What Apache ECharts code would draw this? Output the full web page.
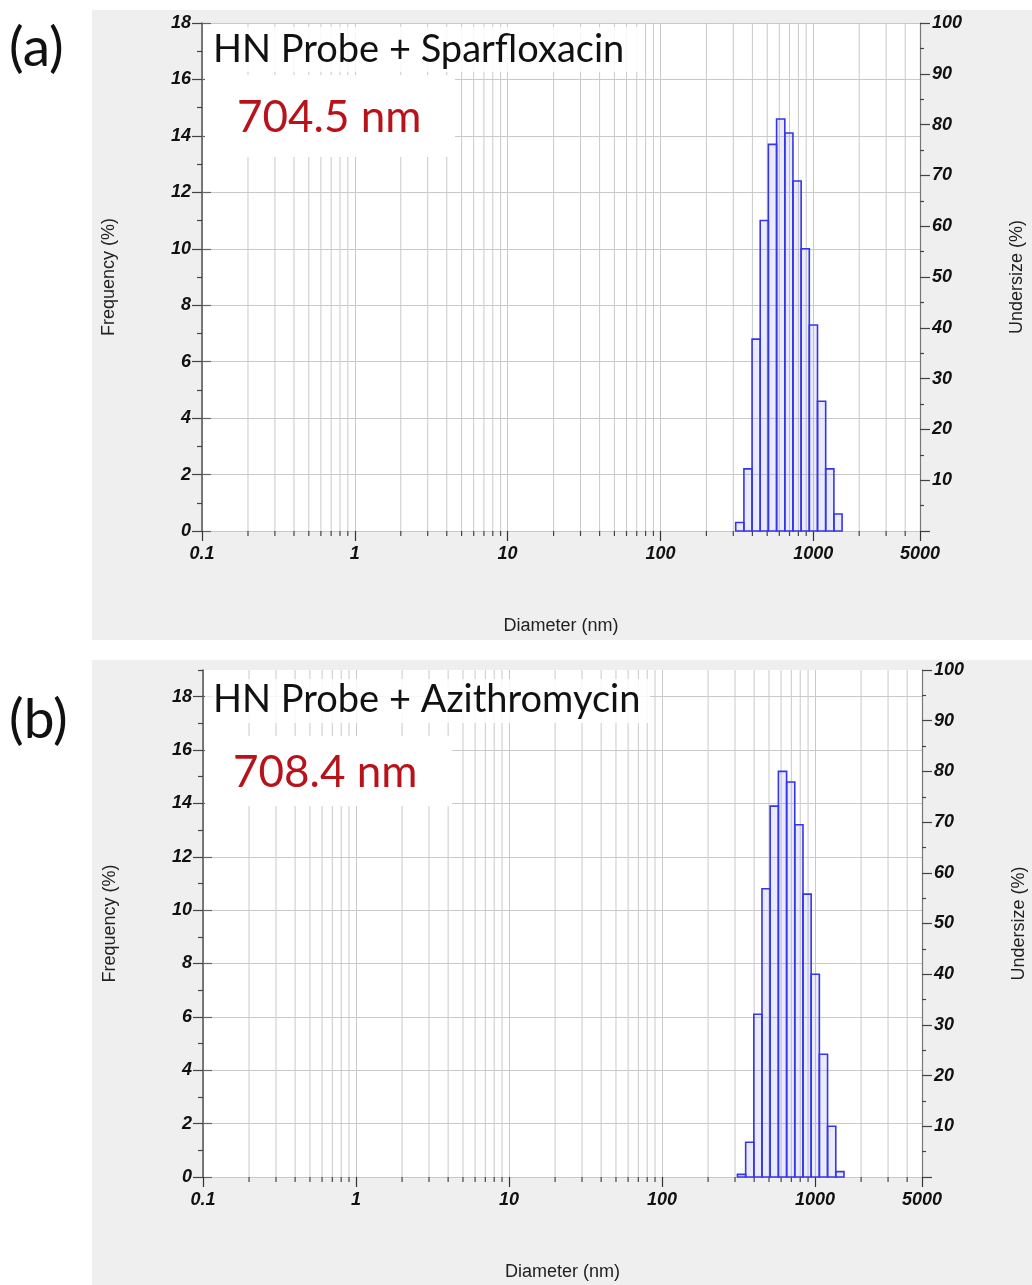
<!DOCTYPE html>
<html><head><meta charset="utf-8">
<script src="https://cdn.jsdelivr.net/npm/echarts@6/dist/echarts.min.js"></script>
<style>html,body{margin:0;padding:0;background:#fff}#c{width:1032px;height:1285px}</style>
</head><body><div id="c"></div>
<script>
// ---- data ----
const binLower = [311, 352, 398, 450, 509, 576, 652, 737, 834, 943, 1067, 1207, 1366];
const binUpper = [352, 398, 450, 509, 576, 652, 737, 834, 943, 1067, 1207, 1366, 1545];
const freqA = [0.3, 2.2, 6.8, 11.0, 13.7, 14.6, 14.1, 12.4, 10.0, 7.3, 4.6, 2.2, 0.6];
const freqB = [0.1, 1.3, 6.1, 10.8, 13.9, 15.2, 14.8, 13.2, 10.6, 7.6, 4.6, 1.9, 0.2];
const panelTitles = ['HN Probe + Sparfloxacin', 'HN Probe + Azithromycin'];
const panelSizes = ['704.5 nm', '708.4 nm'];
const panelLetters = ['(a)', '(b)'];
const freqLabelValues = [0, 2, 4, 6, 8, 10, 12, 14, 16, 18];
const freqMinorA = [1, 3, 5, 7, 9, 11, 13, 15, 17];
const freqMinorB = [1, 3, 5, 7, 9, 11, 13, 15, 17, 19];
const minorGridX = [0.2, 0.3, 0.4, 0.5, 0.6, 0.7, 0.8, 0.9,
  2, 3, 4, 5, 6, 7, 8, 9,
  20, 30, 40, 50, 60, 70, 80, 90,
  200, 300, 400, 500, 600, 700, 800, 900,
  2000, 3000, 4000];

const tickFont = {fontFamily: 'Liberation Sans', fontWeight: 'bold', fontStyle: 'italic', fontSize: 18, color: '#111'};
const nameFont = {fontFamily: 'Liberation Sans', fontSize: 18, color: '#222'};
const GRID = '#c9c9c9';

const grids = [
  {left: 202, top: 23, right: 112, bottom: 754, maxY: 18, freq: freqA, minor: freqMinorA},
  {left: 203, top: 670, right: 110, bottom: 108, maxY: 19, freq: freqB, minor: freqMinorB}
];

const option = {
  animation: false,
  backgroundColor: '#fff',
  grid: [], xAxis: [], yAxis: [], series: [], graphic: []
};

grids.forEach((g, p) => {
  option.grid.push({left: g.left, top: g.top, right: g.right, bottom: g.bottom,
    show: true, backgroundColor: '#fff', borderWidth: 0, containLabel: false, outerBoundsMode: 'none'});
  option.xAxis.push({
    type: 'log', logBase: 10, gridIndex: p, min: 0.1, max: 5000,
    name: 'Diameter (nm)', nameLocation: 'middle', nameGap: 86, nameTextStyle: nameFont,
    axisLine: {show: false, onZero: false},
    axisTick: {show: true, length: 10, lineStyle: {color: '#333', width: 1.2}},
    axisLabel: Object.assign({margin: 14, formatter: v => String(+v.toPrecision(4))}, tickFont),
    splitLine: {show: true, lineStyle: {color: GRID, width: 1}},
    minorTick: {show: false}
  });
  const base = p * 4;
  // main left axis
  option.yAxis.push({
    type: 'value', gridIndex: p, position: 'left', min: 0, max: g.maxY, interval: 1,
    name: 'Frequency (%)', nameLocation: 'middle', nameGap: 84, nameRotate: 90, nameTextStyle: nameFont,
    axisLine: {show: true, lineStyle: {color: '#555', width: 1.5}},
    axisTick: {show: true, customValues: freqLabelValues, length: 10, lineStyle: {color: '#444', width: 1.2}},
    axisLabel: Object.assign({customValues: freqLabelValues, margin: 11}, tickFont),
    splitLine: {show: true, lineStyle: {color: GRID, width: 1}}
  });
  // minor outward ticks
  option.yAxis.push({
    type: 'value', gridIndex: p, position: 'left', min: 0, max: g.maxY, interval: 1,
    axisLine: {show: false},
    axisTick: {show: true, customValues: g.minor, length: 5, lineStyle: {color: '#444', width: 1.2}},
    axisLabel: {show: false}, splitLine: {show: false}
  });
  // inward major ticks
  option.yAxis.push({
    type: 'value', gridIndex: p, position: 'left', min: 0, max: g.maxY, interval: 1,
    axisLine: {show: false},
    axisTick: {show: true, inside: true, customValues: freqLabelValues, length: 9, lineStyle: {color: '#666', width: 1.2}},
    axisLabel: {show: false}, splitLine: {show: false}
  });
  // right axis
  option.yAxis.push({
    type: 'value', gridIndex: p, position: 'right', min: 0, max: 100, interval: 10,
    name: 'Undersize (%)', nameLocation: 'middle', nameGap: 88, nameRotate: 90, nameTextStyle: nameFont,
    axisLine: {show: true, lineStyle: {color: '#777', width: 1.2}},
    axisTick: {show: true, length: 10, lineStyle: {color: '#444', width: 1.2}},
    minorTick: {show: true, splitNumber: 2, length: 4, lineStyle: {color: '#444', width: 1.2}},
    axisLabel: Object.assign({margin: 12, formatter: v => v === 0 ? '' : String(v)}, tickFont),
    splitLine: {show: false}
  });
  // minor log grid lines + ticks
  const maxY = g.maxY;
  option.series.push({
    type: 'custom', xAxisIndex: p, yAxisIndex: base, z: 1, clip: false, silent: true,
    data: minorGridX.map(v => [v, 0]), encode: {x: 0, y: 1},
    renderItem: (params, api) => {
      const x = api.value(0);
      const a = api.coord([x, 0]);
      const b = api.coord([x, maxY]);
      return {type: 'group', children: [
        {type: 'line', shape: {x1: a[0], y1: a[1], x2: b[0], y2: b[1]}, style: {stroke: GRID, lineWidth: 1}},
        {type: 'line', shape: {x1: a[0], y1: a[1], x2: a[0], y2: a[1] + 5}, style: {stroke: '#444', lineWidth: 1.2}}
      ]};
    }
  });
  // histogram bars
  option.series.push({
    type: 'custom', xAxisIndex: p, yAxisIndex: base, z: 3, silent: true,
    data: g.freq.map((f, i) => [binLower[i], binUpper[i], f]),
    encode: {x: [0, 1], y: 2},
    renderItem: (params, api) => {
      const tl = api.coord([api.value(0), api.value(2)]);
      const br = api.coord([api.value(1), 0]);
      return {type: 'rect', shape: {x: tl[0], y: tl[1], width: br[0] - tl[0], height: br[1] - tl[1]},
        style: {fill: 'rgba(120,120,255,0.15)', stroke: '#3636e4', lineWidth: 1.6}};
    }
  });
});

// panel backgrounds, letters, annotation boxes
const panelBoxes = [{y: 10, h: 630}, {y: 660, h: 625}];
panelBoxes.forEach((b, p) => {
  option.graphic.push({type: 'rect', z: -10, shape: {x: 92, y: b.y, width: 940, height: b.h}, style: {fill: '#efefef'}});
});
const annot = [
  {letterY: 48, titleY: 50, titleBox: [205, 27, 435, 45], sizeBox: [205, 75, 250, 82], sizeX: 237, sizeY: 118},
  {letterY: 720, titleY: 700, titleBox: [205, 679, 445, 44], sizeBox: [205, 736, 247, 70], sizeX: 233, sizeY: 773}
];
annot.forEach((a, p) => {
  option.graphic.push({type: 'text', z: 20, x: 9, y: a.letterY,
    style: {text: panelLetters[p], font: '55px Lato', fill: '#111', verticalAlign: 'middle'}});
  option.graphic.push({type: 'rect', z: 15, shape: {x: a.titleBox[0], y: a.titleBox[1], width: a.titleBox[2], height: a.titleBox[3]},
    style: {fill: 'rgba(255,255,255,0.85)'}});
  option.graphic.push({type: 'text', z: 20, x: 213, y: a.titleY,
    style: {text: panelTitles[p], font: '38px Lato', fill: '#111', verticalAlign: 'middle'}});
  option.graphic.push({type: 'rect', z: 15, shape: {x: a.sizeBox[0], y: a.sizeBox[1], width: a.sizeBox[2], height: a.sizeBox[3]},
    style: {fill: '#fff'}});
  option.graphic.push({type: 'text', z: 20, x: a.sizeX, y: a.sizeY,
    style: {text: panelSizes[p], font: '44px Lato', fill: '#b8121b', verticalAlign: 'middle'}});
});

const chart = echarts.init(document.getElementById('c'), null, {renderer: 'canvas'});
chart.setOption(option);
</script>
</body></html>
